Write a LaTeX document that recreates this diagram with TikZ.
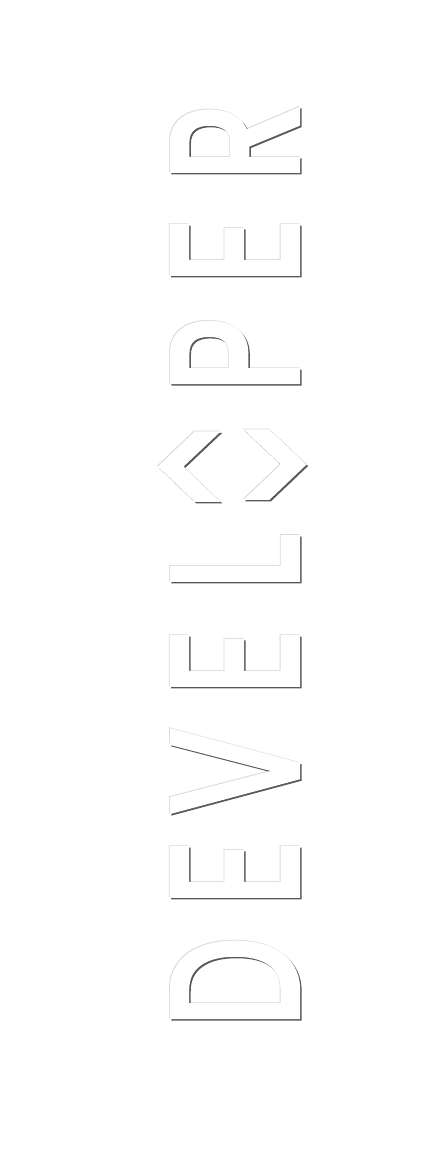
\documentclass[tikz,border=0pt]{standalone}
\usepackage{fontspec}
\setmainfont{Poppins}

\tikzset{
  glyph/.style={rotate=90, anchor=base, inner sep=0pt, font=\fontsize{178}{178}\selectfont\addfontfeature{FakeBold=3.5}},
  glyphtop/.style={glyph, text=white},
  glyphdark/.style={glyph, text=black!65},
  glyphlight/.style={glyph, text=black!15},
  chevron/.style={anchor=center, inner sep=0pt, font=\fontsize{138}{138}\selectfont\addfontfeature{FakeBold=5}},
}

\begin{document}
\begin{tikzpicture}[x=1pt,y=1pt]
        \useasboundingbox[fill=white] (0,0) rectangle (441,-1161);
        % the letters, from the bottom up
        \foreach \ch/\yc [count=\i] in {D/982,E/873,V/771,E/662,L/562,P/355,E/251,R/142} {
          \node[glyphlight] (h\i) at (296.2,-\yc+0.8) {\scalebox{0.71}[1]{\ch}};
          \node[glyphdark]  (s\i) at (298.5,-\yc-1.5) {\scalebox{0.71}[1]{\ch}};
          \node[glyphtop]   (g\i) at (297,-\yc)       {\scalebox{0.71}[1]{\ch}};
        }
        % the code brackets in place of the O
        \foreach \ch/\xc/\yc [count=\i] in {</189.5/476,>/276.5/474} {
          \node[chevron, text=black!15] (hb\i) at (\xc-0.8,-\yc+0.8) {\ch};
          \node[chevron, text=black!65] (sb\i) at (\xc+1.5,-\yc-1.5) {\ch};
          \node[chevron, text=white]    (b\i)  at (\xc,-\yc)         {\ch};
        }
\end{tikzpicture}
\end{document}
